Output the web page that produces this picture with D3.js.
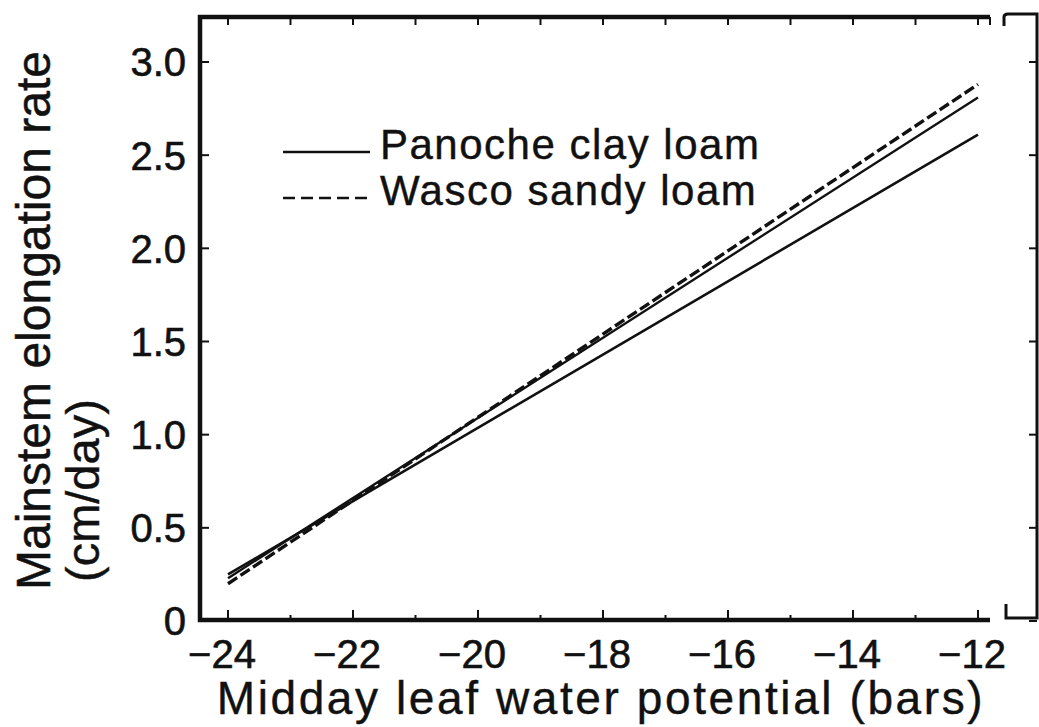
<!doctype html>
<meta charset="utf-8">
<style>
body { margin: 0; background: #fff; }
text { font-family: "Liberation Sans", Arial, sans-serif; fill: #111; }
</style>
<script src="https://d3js.org/d3.v7.min.js"></script>
<body>
<svg id="chart"></svg>
<script>
// values
var xTicks = [-24, -22, -20, -18, -16, -14, -12];
var yTicks = [0, 0.5, 1.0, 1.5, 2.0, 2.5, 3.0];
var yTickLabels = ["0", "0.5", "1.0", "1.5", "2.0", "2.5", "3.0"];
var potential = [-24, -12];
var panoche = [0.25, 2.61];
var wasco = [0.20, 2.88];
var pooled = [0.23, 2.81]; // unlabelled solid line lying along the dashed one
var legendNames = ["Panoche clay loam", "Wasco sandy loam"];

var width = 1039, height = 727;
var svg = d3.select("#chart").attr("width", width).attr("height", height);

var x = d3.scaleLinear().domain([-24, -12]).range([228, 978]);
var y = d3.scaleLinear().domain([0, 3]).range([621, 62]);

var box = { left: 200, right: 990, top: 17, bottom: 620 };
var ink = "#111";

// frame: left, top and bottom, no right side
var frame = svg.append("g").attr("stroke", ink).attr("fill", "none");
frame.append("path").attr("stroke-width", 4.5)
  .attr("d", "M" + box.right + "," + box.top + "H" + box.left + "V" + box.bottom + "H" + box.right);
frame.append("path").attr("stroke-width", 2)
  .attr("d", "M" + box.right + "," + box.top + "v8");

// minor ticks every bar on top and bottom
var minor = d3.range(-24, -11, 1);
frame.selectAll(".tt").data(minor).enter().append("line")
  .attr("x1", d => x(d)).attr("x2", d => x(d))
  .attr("y1", box.top).attr("y2", box.top + 8).attr("stroke-width", 2);
frame.selectAll(".bt").data(minor).enter().append("line")
  .attr("x1", d => x(d)).attr("x2", d => x(d))
  .attr("y1", box.bottom).attr("y2", d => xTicks.indexOf(d) >= 0 ? box.bottom - 10 : box.bottom - 5)
  .attr("stroke-width", 2);
frame.selectAll(".lt").data(yTicks).enter().append("line")
  .attr("x1", box.left).attr("x2", box.left + 9)
  .attr("y1", d => y(d)).attr("y2", d => y(d)).attr("stroke-width", 2);

// neighbouring panel edge on the right
var side = svg.append("g").attr("stroke", ink).attr("fill", "none").attr("stroke-width", 3);
side.append("path").attr("d", "M1004,26 V17 Q1004,14 1008,14 H1037 V618 H1006 V604");
side.selectAll("line").data(yTicks).enter().append("line")
  .attr("x1", 1037).attr("x2", 1029)
  .attr("y1", d => y(d)).attr("y2", d => y(d)).attr("stroke-width", 2);

// tick labels
svg.selectAll(".yl").data(yTicks).enter().append("text")
  .attr("x", 186).attr("y", d => y(d))
  .attr("dy", "0.36em").attr("text-anchor", "end")
  .attr("font-size", 40).attr("stroke", ink).attr("stroke-width", 0.6)
  .text((d, i) => yTickLabels[i]);
svg.selectAll(".xl").data(xTicks).enter().append("text")
  .attr("x", d => x(d) - 6).attr("y", 668)
  .attr("text-anchor", "middle")
  .attr("font-size", 40).attr("stroke", ink).attr("stroke-width", 0.6)
  .text(d => "\u2212" + Math.abs(d));

// axis titles
svg.append("text").attr("x", 601).attr("y", 714).attr("text-anchor", "middle")
  .attr("font-size", 46).attr("letter-spacing", 2.6)
  .attr("stroke", ink).attr("stroke-width", 0.4)
  .text("Midday leaf water potential (bars)");
svg.append("text").attr("transform", "translate(50,590) rotate(-90)")
  .attr("font-size", 48).attr("stroke", ink).attr("stroke-width", 0.5)
  .text("Mainstem elongation rate");
svg.append("text").attr("transform", "translate(99,582) rotate(-90)")
  .attr("font-size", 47).attr("stroke", ink).attr("stroke-width", 0.4)
  .text("(cm/day)");

// fitted lines
var line = d3.line().x(d => x(d[0])).y(d => y(d[1]));
function pts(vals) { return potential.map((p, i) => [p, vals[i]]); }
var lines = svg.append("g").attr("fill", "none").attr("stroke", ink);
lines.append("path").attr("d", line(pts(panoche))).attr("stroke-width", 2.6);
lines.append("path").attr("d", line(pts(pooled))).attr("stroke-width", 2.4);
lines.append("path").attr("d", line(pts(wasco))).attr("stroke-width", 3.4)
  .attr("stroke-dasharray", "11 4");

// legend
var legend = svg.append("g");
var legendY = [152, 198];
legend.selectAll("line").data(legendNames).enter().append("line")
  .attr("x1", 283).attr("x2", 370)
  .attr("y1", (d, i) => legendY[i]).attr("y2", (d, i) => legendY[i])
  .attr("stroke", ink).attr("stroke-width", 2.6)
  .attr("stroke-dasharray", (d, i) => i ? "12 6" : null);
legend.selectAll("text").data(legendNames).enter().append("text")
  .attr("x", 380).attr("y", (d, i) => legendY[i] + 7)
  .attr("font-size", 42).attr("letter-spacing", 1.5)
  .attr("stroke", ink).attr("stroke-width", 0.4)
  .text(d => d);
</script>
</body>
